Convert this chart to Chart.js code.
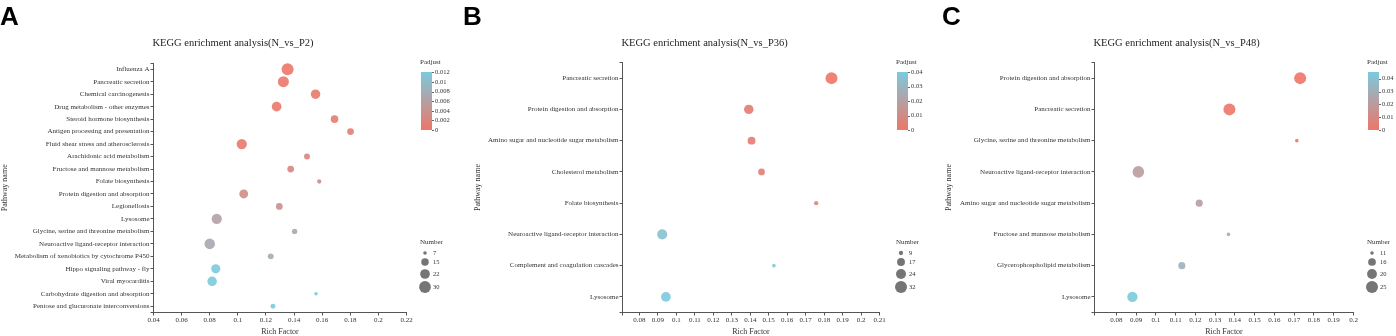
<!DOCTYPE html>
<html>
<head>
<meta charset="utf-8">
<script src="https://cdn.jsdelivr.net/npm/chart.js@4/dist/chart.umd.min.js"></script>
<style>
  html, body { margin: 0; padding: 0; background: #fff; }
  #wrap { position: relative; width: 1396px; height: 336px; overflow: hidden; }
  canvas { position: absolute; left: 0; top: 0; }
</style>
</head>
<body>
<div id="wrap">
  <canvas id="cA" width="1396" height="336"></canvas>
  <canvas id="cB" width="1396" height="336"></canvas>
  <canvas id="cC" width="1396" height="336"></canvas>
</div>
<script>
// ---- panel A: N_vs_P2 ----
const pathA = ["Influenza A", "Pancreatic secretion", "Chemical carcinogenesis", "Drug metabolism - other enzymes",
  "Steroid hormone biosynthesis", "Antigen processing and presentation", "Fluid shear stress and atherosclerosis",
  "Arachidonic acid metabolism", "Fructose and mannose metabolism", "Folate biosynthesis",
  "Protein digestion and absorption", "Legionellosis", "Lysosome", "Glycine, serine and threonine metabolism",
  "Neuroactive ligand-receptor interaction", "Metabolism of xenobiotics by cytochrome P450",
  "Hippo signaling pathway - fly", "Viral myocarditis", "Carbohydrate digestion and absorption",
  "Pentose and glucuronate interconversions"];
const richA = [0.1354, 0.1324, 0.1553, 0.1276, 0.1688, 0.1802, 0.1028, 0.1492, 0.1376, 0.1579,
  0.1042, 0.1295, 0.0850, 0.1404, 0.0800, 0.1234, 0.0843, 0.0817, 0.1556, 0.1250];
const countA = [31, 27, 21, 22, 15, 13, 24, 11, 13, 8, 19, 13, 24, 10, 25, 11, 20, 21, 7, 9];
const padjA = [0.0002, 0.0003, 0.0005, 0.0004, 0.0008, 0.0010, 0.0006, 0.0022, 0.0025, 0.0030,
  0.0032, 0.0038, 0.0062, 0.0072, 0.0074, 0.0080, 0.0121, 0.0121, 0.0121, 0.0121];
const xTicksA = [0.04, 0.06, 0.08, 0.1, 0.12, 0.14, 0.16, 0.18, 0.2, 0.22];
const padjTicksA = [0, 0.002, 0.004, 0.006, 0.008, 0.01, 0.012];
const numTicksA = [7, 15, 22, 30];

// ---- panel B: N_vs_P36 ----
const pathB = ["Pancreatic secretion", "Protein digestion and absorption", "Amino sugar and nucleotide sugar metabolism",
  "Cholesterol metabolism", "Folate biosynthesis", "Neuroactive ligand-receptor interaction",
  "Complement and coagulation cascades", "Lysosome"];
const richB = [0.1840, 0.1392, 0.1407, 0.1461, 0.1757, 0.0923, 0.1528, 0.0943];
const countB = [32, 22, 17, 14, 9, 24, 8, 23];
const padjB = [0.0001, 0.0020, 0.0030, 0.0040, 0.0060, 0.0360, 0.0400, 0.0400];
const xTicksB = [0.08, 0.09, 0.1, 0.11, 0.12, 0.13, 0.14, 0.15, 0.16, 0.17, 0.18, 0.19, 0.2, 0.21];
const padjTicksB = [0, 0.01, 0.02, 0.03, 0.04];
const numTicksB = [9, 17, 24, 32];

// ---- panel C: N_vs_P48 ----
const pathC = ["Protein digestion and absorption", "Pancreatic secretion", "Glycine, serine and threonine metabolism",
  "Neuroactive ligand-receptor interaction", "Amino sugar and nucleotide sugar metabolism",
  "Fructose and mannose metabolism", "Glycerophospholipid metabolism", "Lysosome"];
const richC = [0.1730, 0.1372, 0.1713, 0.0911, 0.1219, 0.1367, 0.1131, 0.0881];
const countC = [25, 25, 11, 24, 15, 11, 15, 21];
const padjC = [0.0001, 0.0002, 0.0030, 0.0200, 0.0210, 0.0280, 0.0310, 0.0450];
const xTicksC = [0.08, 0.09, 0.1, 0.11, 0.12, 0.13, 0.14, 0.15, 0.16, 0.17, 0.18, 0.19, 0.2];
const padjTicksC = [0, 0.01, 0.02, 0.03, 0.04];
const numTicksC = [11, 16, 20, 25];

const LOW = [238, 118, 104], HIGH = [122, 202, 222];
const SERIF = '"Liberation Serif", "Times New Roman", serif';

function mix(t, a) {
  t = Math.max(0, Math.min(1, t));
  const c = LOW.map((v, i) => Math.round(v + (HIGH[i] - v) * t));
  return 'rgba(' + c.join(',') + ',' + (a == null ? 1 : a) + ')';
}

function sizer(counts) {
  const lo = Math.min(...counts), hi = Math.max(...counts);
  const r0 = 1.8, r1 = 6;
  return n => Math.sqrt(r0 * r0 + (n - lo) / (hi - lo) * (r1 * r1 - r0 * r0));
}

// titles, panel letter and the two legends
const deco = {
  id: 'deco',
  afterDraw(chart, args, o) {
    const ctx = chart.ctx, ca = chart.chartArea;
    ctx.save();
    ctx.fillStyle = '#000';
    ctx.font = 'bold 26px "Liberation Sans", Arial, sans-serif';
    ctx.textBaseline = 'alphabetic';
    ctx.textAlign = 'left';
    ctx.fillText(o.letter, o.letterX, 25);

    ctx.fillStyle = '#222';
    ctx.font = '10.5px ' + SERIF;
    ctx.textBaseline = 'middle';
    ctx.fillText(o.title, ca.left - 1, 43);

    // Padjust colour bar
    const lx = o.legX, top = 72, bot = 130, bw = 11;
    ctx.font = '7px ' + SERIF;
    ctx.fillStyle = '#333';
    ctx.fillText('Padjust', lx - 1, 62);
    const g = ctx.createLinearGradient(0, bot, 0, top);
    g.addColorStop(0, mix(0));
    g.addColorStop(0.5, mix(0.5));
    g.addColorStop(1, mix(1));
    ctx.fillStyle = g;
    ctx.fillRect(lx, top, bw, bot - top);
    ctx.strokeStyle = '#666';
    ctx.lineWidth = 1;
    ctx.font = '6.5px ' + SERIF;
    ctx.fillStyle = '#333';
    o.padjTicks.forEach(v => {
      const y = bot - (v / o.padjMax) * (bot - top);
      ctx.beginPath();
      ctx.moveTo(lx + bw, Math.round(y) + 0.5);
      ctx.lineTo(lx + bw + 2, Math.round(y) + 0.5);
      ctx.stroke();
      ctx.fillText(String(v), lx + bw + 3, y);
    });

    // Number size legend
    ctx.font = '7px ' + SERIF;
    ctx.fillText('Number', lx - 1, 242);
    const rows = [253, 262, 274, 287];
    o.numTicks.forEach((n, i) => {
      ctx.fillStyle = 'rgba(110,110,110,0.95)';
      ctx.beginPath();
      ctx.arc(lx + 4, rows[i], o.size(n), 0, Math.PI * 2);
      ctx.fill();
      ctx.fillStyle = '#333';
      ctx.font = '6.5px ' + SERIF;
      ctx.fillText(String(n), lx + 12, rows[i]);
    });
    ctx.restore();
  }
};

function panel(id, p) {
  const size = sizer(p.count);
  const n = p.path.length;
  const pts = p.path.map((name, i) => ({ x: p.rich[i], y: i, r: size(p.count[i]) }));
  const axisCol = '#555';
  new Chart(document.getElementById(id), {
    type: 'bubble',
    data: {
      datasets: [{
        data: pts,
        backgroundColor: p.padj.map(v => mix(v / p.padjMax, 0.9)),
        borderWidth: 0,
        hoverBorderWidth: 0
      }]
    },
    options: {
      responsive: false,
      devicePixelRatio: 1,
      animation: false,
      events: [],
      layout: { padding: { left: p.padL, right: 1396 - p.right, top: p.top, bottom: 0 } },
      plugins: {
        legend: { display: false },
        tooltip: { enabled: false },
        deco: {
          letter: p.letter, letterX: p.letterX, title: p.title, legX: p.legX,
          padjTicks: p.padjTicks, padjMax: p.padjMax, numTicks: p.numTicks, size: size
        }
      },
      scales: {
        x: {
          type: 'linear',
          min: p.xmin, max: p.xmax,
          afterBuildTicks: s => {
            const v = p.xTicks.slice();
            if (v[0] > p.xmin + 1e-9) v.unshift(p.xmin);
            s.ticks = v.map(value => ({ value }));
          },
          afterFit: s => { s.height = 336 - p.bottom; },
          ticks: {
            autoSkip: false, maxRotation: 0, padding: 0,
            color: '#333', font: { family: SERIF, size: 7 },
            callback: v => (p.xTicks.indexOf(v) >= 0 ? String(v) : '')
          },
          grid: { drawOnChartArea: false, drawTicks: true, tickLength: 3, color: axisCol, tickColor: axisCol },
          border: { display: true, color: axisCol, width: 1 },
          title: { display: true, text: 'Rich Factor', color: '#333', padding: 0,
            font: { family: SERIF, size: 8, lineHeight: 1 } }
        },
        y: {
          type: 'linear',
          reverse: true,
          min: -0.5, max: n - 0.5,
          afterBuildTicks: s => {
            const v = [-0.5];
            for (let i = 0; i < n; i++) v.push(i);
            v.push(n - 0.5);
            s.ticks = v.map(value => ({ value }));
          },
          afterFit: s => { s.width = p.left - p.padL; },
          ticks: {
            autoSkip: false, padding: 1,
            color: '#333', font: { family: SERIF, size: 7 },
            callback: v => (Number.isInteger(v) ? p.path[v] : '')
          },
          grid: { drawOnChartArea: false, drawTicks: true, tickLength: 3, color: axisCol, tickColor: axisCol },
          border: { display: true, color: axisCol, width: 1 },
          title: { display: true, text: 'Pathway name', color: '#333', padding: { top: 1, bottom: 0 },
            font: { family: SERIF, size: 8, lineHeight: 1 } }
        }
      }
    },
    plugins: [deco]
  });
}

panel('cA', {
  path: pathA, rich: richA, count: countA, padj: padjA, xTicks: xTicksA,
  padjTicks: padjTicksA, numTicks: numTicksA, padjMax: 0.0121,
  xmin: 0.04, xmax: 0.22, padL: 0, left: 153.5, right: 406.5, top: 63, bottom: 312.5,
  letter: 'A', letterX: 0, title: 'KEGG enrichment analysis(N_vs_P2)', legX: 421
});
panel('cB', {
  path: pathB, rich: richB, count: countB, padj: padjB, xTicks: xTicksB,
  padjTicks: padjTicksB, numTicks: numTicksB, padjMax: 0.04,
  xmin: 0.0708, xmax: 0.21, padL: 473, left: 622.5, right: 879.5, top: 62.5, bottom: 312.5,
  letter: 'B', letterX: 463, title: 'KEGG enrichment analysis(N_vs_P36)', legX: 897
});
panel('cC', {
  path: pathC, rich: richC, count: countC, padj: padjC, xTicks: xTicksC,
  padjTicks: padjTicksC, numTicks: numTicksC, padjMax: 0.0452,
  xmin: 0.0689, xmax: 0.2, padL: 944, left: 1094.5, right: 1353.5, top: 62.5, bottom: 312.5,
  letter: 'C', letterX: 942, title: 'KEGG enrichment analysis(N_vs_P48)', legX: 1368
});
</script>
</body>
</html>
